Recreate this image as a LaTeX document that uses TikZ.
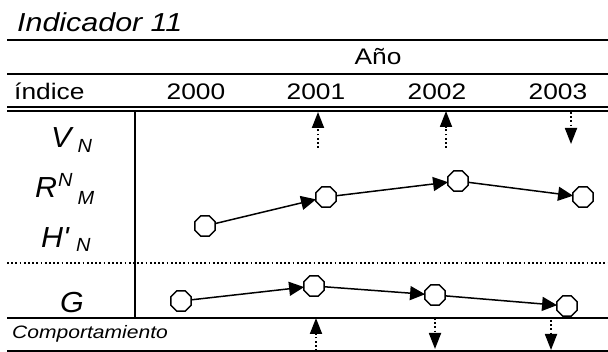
\documentclass[tikz,border=0pt]{standalone}
\usepackage{fontspec}
\setmainfont{Liberation Sans}[FakeStretch=1.17]
\newfontfamily\labfont{Liberation Sans}[FakeStretch=1.05]
\usetikzlibrary{arrows.meta,shapes.geometric}
\begin{document}
\begin{tikzpicture}[x=1pt,y=-1pt,
  rule/.style={line width=1.8pt},
  dotrule/.style={line width=1.8pt,dash pattern=on 1.8pt off 2.4pt},
  oct/.style={draw,line width=1.5pt,regular polygon,regular polygon sides=8,minimum size=22pt,inner sep=0pt,fill=white},
  link/.style={line width=1.5pt,-{Triangle[length=15pt,width=14pt]},shorten >=-1pt},
  vmark/.style={line width=1.8pt,dash pattern=on 1.8pt off 2.4pt,-{Triangle[length=16pt,width=12pt]}},
  txt/.style={inner sep=0pt,anchor=base},
  lab/.style={inner sep=0pt,anchor=base west,font=\labfont\itshape\fontsize{29}{29}\selectfont}]
\useasboundingbox (0,0) rectangle (608,352);
% rules
\draw[rule] (7,40) -- (608,40);
\draw[rule] (7,74) -- (608,74);
\draw[rule] (7,107) -- (608,107);
\draw[rule] (7,111) -- (608,111);
\draw[rule] (135,111) -- (135,318);
\draw[dotrule] (7,263) -- (608,263);
\draw[rule] (7,318) -- (608,318);
\draw[rule] (7,351) -- (608,351);
% texts
\node[txt,anchor=base west,font=\itshape\fontsize{26}{26}\selectfont] (title) at (17,32) {Indicador 11};
\node[txt,font=\fontsize{22.5}{22.5}\selectfont] (ano) at (378,65) {Año};
\node[txt,anchor=base west,font=\fontsize{22.5}{22.5}\selectfont] (indice) at (14,100) {índice};
\node[txt,font=\fontsize{22.5}{22.5}\selectfont] (y0) at (196,100) {2000};
\node[txt,font=\fontsize{22.5}{22.5}\selectfont] (y1) at (316,100) {2001};
\node[txt,font=\fontsize{22.5}{22.5}\selectfont] (y2) at (437,100) {2002};
\node[txt,font=\fontsize{22.5}{22.5}\selectfont] (y3) at (558,100) {2003};
\node[lab] (lv) at (51,148) {V\hspace{6pt}\raisebox{-5pt}{\fontsize{19}{19}\selectfont N}};
\node[lab] (lr) at (35,198) {R\hspace{1pt}\raisebox{11pt}{\fontsize{19}{19}\selectfont N}\hspace{5pt}\raisebox{-7pt}{\fontsize{19}{19}\selectfont M}};
\node[lab] (lh) at (41,248) {H'\hspace{7pt}\raisebox{-4pt}{\fontsize{19}{19}\selectfont N}};
\node[lab] (lg) at (60,313) {G};
\node[txt,anchor=base west,font=\itshape\fontsize{18}{18}\selectfont] (comp) at (12,339) {Comportamiento};
% R row
\node[oct] (r0) at (205,226) {};
\node[oct] (r1) at (326,197) {};
\node[oct] (r2) at (458,181) {};
\node[oct] (r3) at (583,197) {};
\draw[link] (r0) -- (r1);
\draw[link] (r1) -- (r2);
\draw[link] (r2) -- (r3);
% G row
\node[oct] (g0) at (181,301) {};
\node[oct] (g1) at (314,286) {};
\node[oct] (g2) at (435,295) {};
\node[oct] (g3) at (567,306) {};
\draw[link] (g0) -- (g1);
\draw[link] (g1) -- (g2);
\draw[link] (g2) -- (g3);
% V marks
\coordinate (va0) at (318,148);
\coordinate (vb0) at (318,112);
\coordinate (va1) at (446,148);
\coordinate (vb1) at (446,111);
\coordinate (va2) at (571,112);
\coordinate (vb2) at (571,144);
\draw[vmark] (va0) -- (vb0);
\draw[vmark] (va1) -- (vb1);
\draw[vmark] (va2) -- (vb2);
% Comportamiento marks
\coordinate (ca0) at (316,351);
\coordinate (cb0) at (316,318);
\coordinate (ca1) at (435,318);
\coordinate (cb1) at (435,349);
\coordinate (ca2) at (551,320);
\coordinate (cb2) at (551,350);
\draw[vmark] (ca0) -- (cb0);
\draw[vmark] (ca1) -- (cb1);
\draw[vmark] (ca2) -- (cb2);
\end{tikzpicture}
\end{document}
